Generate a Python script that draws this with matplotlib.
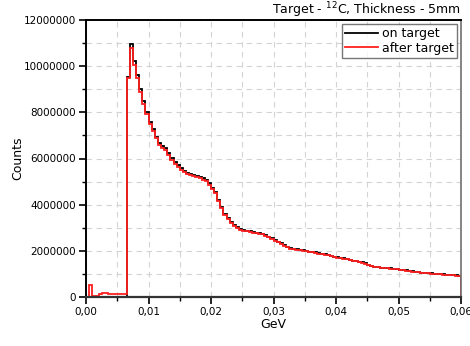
import numpy as np
import matplotlib
matplotlib.use('Agg')
import matplotlib.pyplot as plt
from matplotlib.ticker import MultipleLocator

# energy binning, GeV
bin_edges = np.linspace(0.0, 0.06, 121)

# counts per bin, in millions
on_target = [
    0.0, 0.0, 0.0, 0.0, 0.0, 0.0, 0.0, 0.0, 0.0, 0.0,
    0.0, 0.0, 0.0, 9.55, 10.96, 10.22, 9.62, 9.01, 8.49, 8.03,
    7.60, 7.28, 6.95, 6.69, 6.55, 6.44, 6.23, 6.01, 5.85, 5.72,
    5.58, 5.46, 5.39, 5.33, 5.29, 5.24, 5.20, 5.15, 5.07, 4.93,
    4.74, 4.56, 4.20, 3.91, 3.60, 3.41, 3.26, 3.12, 3.02, 2.95,
    2.90, 2.87, 2.84, 2.81, 2.79, 2.77, 2.74, 2.69, 2.61, 2.55,
    2.47, 2.40, 2.33, 2.25, 2.18, 2.12, 2.08, 2.06, 2.04, 2.02,
    2.00, 1.97, 1.95, 1.93, 1.90, 1.87, 1.85, 1.82, 1.78, 1.75,
    1.72, 1.70, 1.68, 1.65, 1.61, 1.58, 1.55, 1.52, 1.50, 1.46,
    1.40, 1.36, 1.32, 1.29, 1.27, 1.26, 1.25, 1.24, 1.23, 1.21,
    1.19, 1.17, 1.15, 1.13, 1.11, 1.09, 1.08, 1.06, 1.04, 1.03,
    1.02, 1.01, 1.00, 0.99, 0.98, 0.97, 0.96, 0.95, 0.94, 0.93,
]
after_target = [
    0.0, 0.53, 0.06, 0.05, 0.14, 0.18, 0.16, 0.15, 0.14, 0.14,
    0.13, 0.13, 0.12, 9.50, 10.78, 10.05, 9.48, 8.90, 8.38, 7.93,
    7.50, 7.19, 6.87, 6.60, 6.47, 6.36, 6.15, 5.94, 5.78, 5.65,
    5.52, 5.40, 5.33, 5.27, 5.23, 5.18, 5.14, 5.09, 5.01, 4.87,
    4.68, 4.50, 4.15, 3.86, 3.56, 3.37, 3.22, 3.09, 2.99, 2.92,
    2.87, 2.84, 2.81, 2.78, 2.76, 2.74, 2.71, 2.66, 2.58, 2.52,
    2.44, 2.37, 2.31, 2.23, 2.16, 2.10, 2.06, 2.04, 2.02, 2.00,
    1.98, 1.95, 1.93, 1.91, 1.88, 1.85, 1.83, 1.80, 1.76, 1.73,
    1.70, 1.68, 1.66, 1.63, 1.60, 1.57, 1.54, 1.51, 1.48, 1.44,
    1.39, 1.35, 1.31, 1.28, 1.26, 1.25, 1.24, 1.23, 1.22, 1.20,
    1.18, 1.16, 1.14, 1.12, 1.10, 1.08, 1.07, 1.05, 1.03, 1.02,
    1.01, 1.00, 0.99, 0.98, 0.97, 0.96, 0.95, 0.94, 0.93, 0.92,
]

x_ticks = [0.0, 0.01, 0.02, 0.03, 0.04, 0.05, 0.06]
x_tick_labels = ['0,00', '0,01', '0,02', '0,03', '0,04', '0,05', '0,06']
y_ticks = [0, 2000000, 4000000, 6000000, 8000000, 10000000, 12000000]
y_tick_labels = ['0', '2000000', '4000000', '6000000', '8000000', '10000000', '12000000']

plt.rcParams['font.family'] = ['DejaVu Sans']

fig = plt.figure(figsize=(4.7, 3.46), dpi=100)
ax = fig.add_axes([86 / 470, 1 - 297 / 346, 375 / 470, 277 / 346])

ax.stairs(np.array(on_target) * 1e6, bin_edges, color='black', lw=1.3, label='on target')
ax.stairs(np.array(after_target) * 1e6, bin_edges, color='#ff2020', lw=1.3, label='after target')

ax.set_xlim(0, 0.06)
ax.set_ylim(0, 12000000)
ax.set_xticks(x_ticks)
ax.set_xticklabels(x_tick_labels, fontsize=7.5)
ax.set_yticks(y_ticks)
ax.set_yticklabels(y_tick_labels, fontsize=7.5)
ax.xaxis.set_minor_locator(MultipleLocator(0.005))
ax.yaxis.set_minor_locator(MultipleLocator(1000000))
ax.tick_params(which='major', direction='out', length=5, width=1.2, pad=2)
ax.tick_params(which='minor', direction='out', length=3, width=1.0)

ax.grid(True, which='both', color='#d4d4d4', ls=(0, (5, 4)), lw=0.8)
ax.set_axisbelow(True)

for side in ('left', 'top'):
    ax.spines[side].set_color('black')
    ax.spines[side].set_linewidth(1.4)
ax.spines['bottom'].set_color('#333333')
ax.spines['bottom'].set_linewidth(1.6)
ax.spines['right'].set_color('#707070')
ax.spines['right'].set_linewidth(1.2)

ax.set_xlabel('GeV', fontsize=9, labelpad=1)
ax.set_ylabel('Counts', fontsize=9, labelpad=0)
ax.set_title('Target - $^{12}$C, Thickness - 5mm', fontsize=9, loc='right', pad=4)

leg = ax.legend(loc='upper right', fontsize=9, frameon=True, fancybox=False,
                borderpad=0.25, handlelength=2.7, handletextpad=0.3,
                labelspacing=0.15, borderaxespad=0.3)
leg.get_frame().set_edgecolor('#555555')
leg.get_frame().set_linewidth(1.0)
for line in leg.get_lines():
    line.set_linewidth(1.3)

fig.savefig('out.png', dpi=100)
